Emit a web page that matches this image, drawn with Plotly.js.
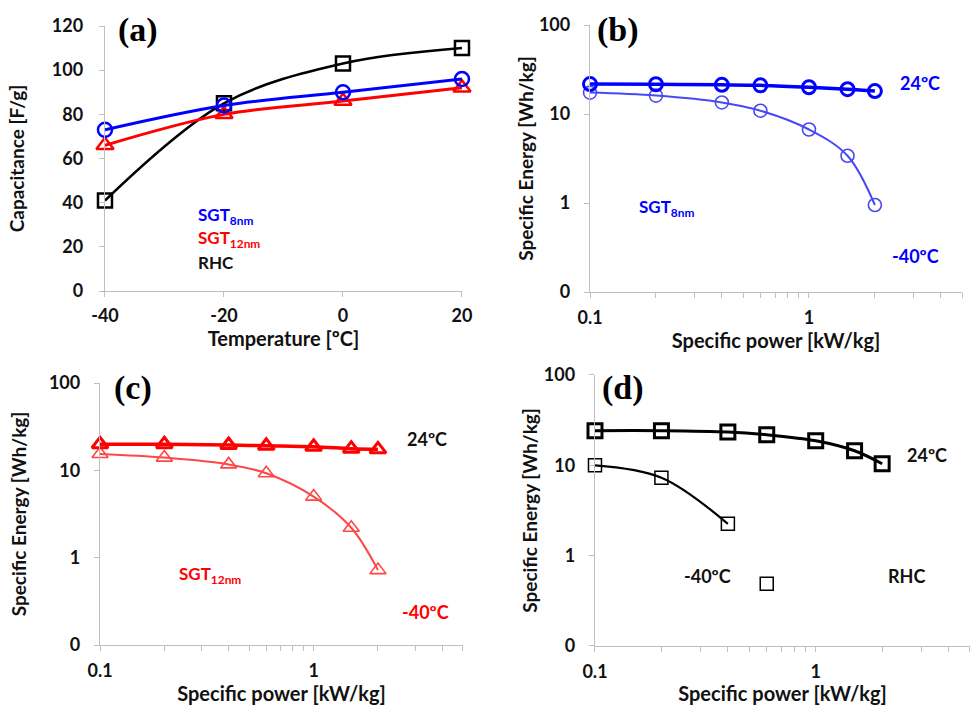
<!DOCTYPE html>
<html>
<head>
<meta charset="utf-8">
<script src="https://cdn.plot.ly/plotly-3.0.1.min.js"></script>
<style>
html,body{margin:0;padding:0;background:#fff;}
#chart{width:973px;height:705px;}
</style>
</head>
<body>
<div id="chart"></div>
<script>
// ---- Data ----
// (a) Capacitance vs temperature
const tempC = [-40, -20, 0, 20];
const capSGT8 = [73, 84, 90, 96];
const capSGT12 = [66, 80, 86, 92];
const capRHC = [41, 85, 103, 110];

// Specific power (kW/kg)
const power = [0.1, 0.2, 0.4, 0.6, 1, 1.5, 2];

// (b) SGT8nm
const sgt8_24 = [21.7, 21.6, 21.3, 21.0, 20.0, 19.0, 18.1];
const sgt8_m40 = [17.4, 16.1, 13.5, 10.9, 6.7, 3.4, 0.95];

// (c) SGT12nm
const sgt12_24 = [19.9, 19.9, 19.5, 19.1, 18.6, 17.7, 17.4];
const sgt12_m40 = [15.4, 14.0, 11.7, 9.25, 5.0, 2.2, 0.72];

// (d) RHC
const rhc_24 = [24.2, 24.2, 23.4, 21.8, 18.7, 14.5, 10.4];
const rhcPowerM40 = [0.1, 0.2, 0.4];
const rhc_m40 = [10.0, 7.3, 2.25];
const rhcPowerM40Isolated = [0.6];
const rhc_m40Isolated = [0.49];

// Tick labels
const capTicks = [0, 20, 40, 60, 80, 100, 120];
const tempTicks = [-40, -20, 0, 20];
const energyTickVals = [0.1, 1, 10, 100];
const energyTickText = ['0', '1', '10', '100'];
const powerTickVals = [0.1, 1];
const powerTickText = ['0.1', '1'];
const powerMinorVals = [0.2,0.3,0.4,0.5,0.6,0.7,0.8,0.9,2,3,4,5];

// ---- Styles ----
const FONT = 'Lato, "Open Sans", Arial, sans-serif';
const AX = '#bfbfbf';
const BLUE = '#0000ff', BLUE_L = '#4848f4';
const RED = '#ff0000', RED_L = '#ff4646';
const BLK = '#000000';

function tr(x, y, xa, ya, color, sym, lw, mlw, size, mode) {
  return {
    x: x, y: y, xaxis: xa, yaxis: ya, type: 'scatter',
    mode: mode || 'lines+markers', cliponaxis: false,
    line: {color: color, width: lw, shape: 'spline', smoothing: 1},
    marker: {symbol: sym, size: size, color: color, line: {color: color, width: mlw}},
    showlegend: false, hoverinfo: 'x+y'
  };
}

const data = [
  // (a)
  tr(tempC, capRHC, 'x', 'y', BLK, 'square-open', 2.5, 2.5, 14),
  tr(tempC, capSGT12, 'x', 'y', RED, 'triangle-up-open', 3, 2.5, 15),
  tr(tempC, capSGT8, 'x', 'y', BLUE, 'circle-open', 3, 2.5, 14),
  // (b)
  tr(power, sgt8_m40, 'x2', 'y2', BLUE_L, 'circle-open', 2, 1.6, 13),
  tr(power, sgt8_24, 'x2', 'y2', BLUE, 'circle-open', 3.5, 3, 13),
  // (c)
  tr(power, sgt12_m40, 'x3', 'y3', RED_L, 'triangle-up-open', 2, 1.6, 14),
  tr(power, sgt12_24, 'x3', 'y3', RED, 'triangle-up-open', 3.5, 3, 14),
  // (d)
  tr(rhcPowerM40, rhc_m40, 'x4', 'y4', BLK, 'square-open', 2.2, 1.5, 13),
  tr(rhcPowerM40Isolated, rhc_m40Isolated, 'x4', 'y4', BLK, 'square-open', 2.2, 1.5, 13, 'markers'),
  tr(power, rhc_24, 'x4', 'y4', BLK, 'square-open', 3, 3, 14)
];

const tickFont = {family: FONT, size: 18, color: '#111', weight: 'bold'};
const titleFont = {family: FONT, size: 20, color: '#111', weight: 'bold'};
const yTitleFont = {family: FONT, size: 19, color: '#111', weight: 'bold'};

function baseAxis(extra) {
  return Object.assign({
    showline: true, linecolor: AX, linewidth: 1.2,
    showgrid: false, zeroline: false,
    ticks: 'outside', ticklen: 5, tickcolor: AX, tickwidth: 1,
    tickfont: tickFont, ticklabelstandoff: 6
  }, extra);
}

function powerAxis(dom, anchor) {
  return baseAxis({
    type: 'log', domain: dom, anchor: anchor, range: [-1, Math.log10(5)],
    tickmode: 'array', tickvals: powerTickVals, ticktext: powerTickText,
    minor: {tickmode: 'array', tickvals: powerMinorVals, ticks: 'outside', ticklen: 5, tickcolor: AX, tickwidth: 1, showgrid: false},
    ticklabelstandoff: 4,
    title: {text: 'Specific power [kW/kg]', font: titleFont, standoff: 2}
  });
}
function energyAxis(dom, anchor, so) {
  return baseAxis({
    type: 'log', domain: dom, anchor: anchor, range: [-1, 2],
    tickmode: 'array', tickvals: energyTickVals, ticktext: energyTickText,
    ticklabelstandoff: 10,
    title: {text: 'Specific Energy [Wh/kg]', font: yTitleFont, standoff: so}
  });
}

const layout = {
  width: 973, height: 705,
  margin: {l: 0, r: 0, t: 0, b: 0},
  paper_bgcolor: '#fff', plot_bgcolor: '#fff',
  font: {family: FONT, color: '#111'},
  xaxis: baseAxis({
    domain: [0.1079, 0.4748], anchor: 'y', range: [-40, 20],
    tickmode: 'array', tickvals: tempTicks, ticktext: tempTicks.map(String),
    ticklabelstandoff: 3,
    title: {text: 'Temperature [ºC]', font: titleFont, standoff: 1}
  }),
  yaxis: baseAxis({
    domain: [0.5872, 0.9631], anchor: 'x', range: [0, 120],
    tickmode: 'array', tickvals: capTicks, ticktext: capTicks.map(String),
    ticklabelstandoff: 12,
    title: {text: 'Capacitance [F/g]', font: yTitleFont, standoff: 22}
  }),
  xaxis2: powerAxis([0.6064, 0.9887], 'y2'),
  yaxis2: energyAxis([0.5858, 0.9645], 'x2', 0),
  xaxis3: powerAxis([0.1028, 0.4758], 'y3'),
  yaxis3: energyAxis([0.0851, 0.4567], 'x3', 17),
  xaxis4: powerAxis([0.6115, 0.9969], 'y4'),
  yaxis4: energyAxis([0.0837, 0.4681], 'x4', 1),
  annotations: []
};

function lab(text, xpx, ypx, color, xanchor, size, family) {
  layout.annotations.push({
    text: text, xref: 'paper', yref: 'paper',
    x: xpx / 973, y: 1 - ypx / 705, xanchor: xanchor || 'center', yanchor: 'middle',
    showarrow: false, font: {family: family || FONT, size: size || 17, color: color}
  });
}
const SERIF = '"Liberation Serif", "Times New Roman", serif';
// Panel letters
lab('<b>(a)</b>', 138, 30, '#000', 'center', 34, SERIF);
lab('<b>(b)</b>', 618, 30, '#000', 'center', 34, SERIF);
lab('<b>(c)</b>', 133, 388, '#000', 'center', 34, SERIF);
lab('<b>(d)</b>', 623, 388, '#000', 'center', 34, SERIF);
// (a) labels
lab('<b>SGT<sub>8nm</sub></b>', 196, 216, BLUE, 'left');
lab('<b>SGT<sub>12nm</sub></b>', 196, 239, RED, 'left');
lab('<b>RHC</b>', 196, 262, '#111', 'left');
// (b)
lab('<b>24ºC</b>', 920, 83, BLUE, 'center', 18);
lab('<b>-40ºC</b>', 915, 256, BLUE, 'center', 18);
lab('<b>SGT<sub>8nm</sub></b>', 637, 208, BLUE, 'left');
// (c)
lab('<b>24ºC</b>', 427, 439, '#111', 'center', 18);
lab('<b>-40ºC</b>', 425, 612, RED, 'center', 18);
lab('<b>SGT<sub>12nm</sub></b>', 177, 575, RED, 'left');
// (d)
lab('<b>24ºC</b>', 927, 455, '#111', 'center', 18);
lab('<b>-40ºC</b>', 707, 576, '#111', 'center', 18);
lab('<b>RHC</b>', 906, 576, '#111', 'center', 18);

Plotly.newPlot('chart', data, layout, {displayModeBar: false, staticPlot: true});
</script>
</body>
</html>
